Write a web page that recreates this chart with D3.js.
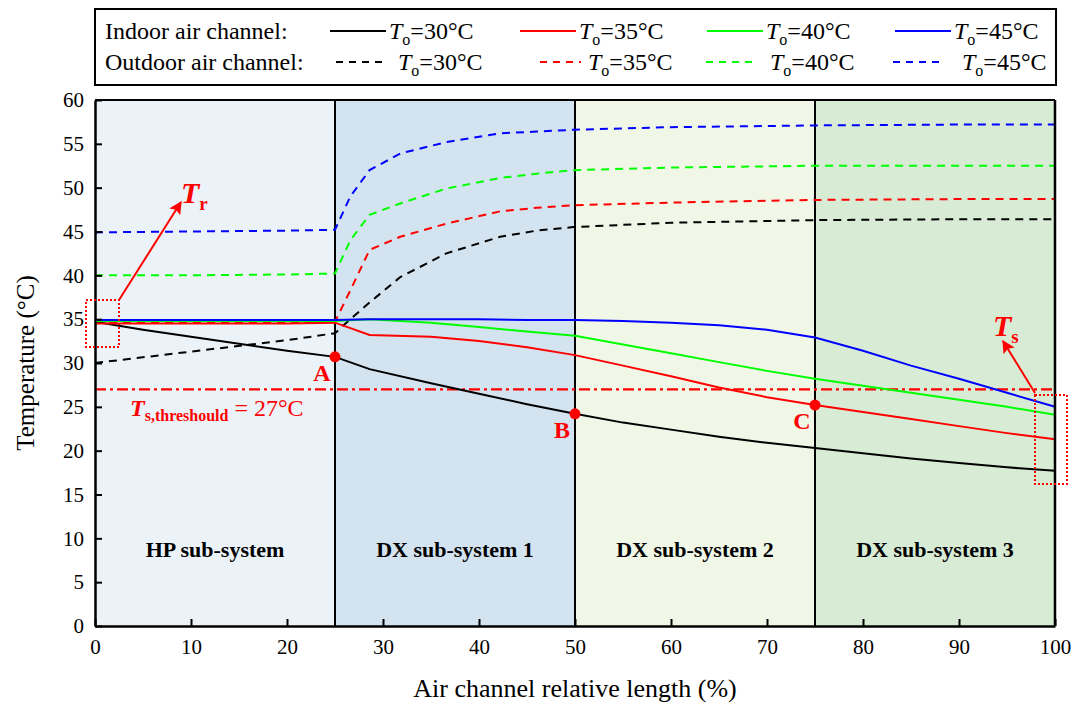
<!DOCTYPE html>
<html><head><meta charset="utf-8">
<script src="https://cdn.jsdelivr.net/npm/d3@7"></script>
<style>body{margin:0;background:#fff}svg{display:block}svg text{font-family:"Liberation Serif","Times New Roman",serif !important}</style>
</head><body><svg id="c" width="1075" height="704"></svg>
<script>
// ---- data ----
const xIndoor = [0,5,10,15,20,25,28.6,35,40,45,50,55,60,65,70,75,80,85,90,95,100];
const inT30 = [34.7,33.8,33.0,32.2,31.4,30.7,29.3,27.7,26.5,25.3,24.2,23.2,22.4,21.6,20.9,20.3,19.7,19.1,18.6,18.1,17.7];
const inT35 = [34.5,34.5,34.5,34.5,34.5,34.6,33.2,33.0,32.5,31.8,30.9,29.7,28.5,27.2,26.1,25.2,24.4,23.6,22.8,22.0,21.3];
const inT40 = [34.8,34.8,34.8,34.8,34.8,34.8,35.0,34.6,34.1,33.6,33.1,32.1,31.1,30.1,29.1,28.2,27.4,26.6,25.8,25.0,24.1];
const inT45 = [34.9,34.9,34.9,34.9,34.9,34.9,35.0,35.0,35.0,34.9,34.9,34.8,34.6,34.3,33.8,32.9,31.4,29.7,28.2,26.6,25.0];
const xOutdoor = [0,10,20,25,26.6,28.6,31.8,36.6,42.2,46,49.8,60,75,90,100];
const outT30 = [30.0,31.3,32.6,33.4,35.0,36.9,39.8,42.5,44.4,45.1,45.5,46.0,46.3,46.4,46.4];
const outT35 = [34.6,34.6,34.6,34.7,38.3,42.9,44.4,45.9,47.3,47.7,48.0,48.3,48.6,48.7,48.7];
const outT40 = [40.0,40.0,40.1,40.2,44.0,46.9,48.2,49.9,51.1,51.6,52.0,52.3,52.5,52.5,52.5];
const outT45 = [44.9,45.0,45.1,45.2,49.0,52.0,53.9,55.2,56.2,56.4,56.6,56.9,57.1,57.2,57.2];
const seriesLabels = ["30","35","40","45"];
const seriesColors = ["#000000","#ff0000","#00ff00","#0000ff"];
const regions = ["HP sub-system","DX sub-system 1","DX sub-system 2","DX sub-system 3"];
const regionBounds = [0,25,50,75,100];
const regionFills = ["#ecf3f8","#d3e3ef","#f0f7e7","#d7ebd5"];
const xTicks = [0,10,20,30,40,50,60,70,80,90,100];
const yTicks = [0,5,10,15,20,25,30,35,40,45,50,55,60];
const pointsX = [25,50,75];
const pointsY = [30.7,24.2,25.2];
const pointsLab = ["A","B","C"];
const threshold = 27;

// ---- layout ----
const svg = d3.select("#c");
const L=95,R=1055,T=100,B=626;
const x = d3.scaleLinear().domain([0,100]).range([L,R]);
const y = d3.scaleLinear().domain([0,60]).range([B,T]);

// backgrounds
regions.forEach((r,i)=>{
  svg.append("rect").attr("x",x(regionBounds[i])).attr("y",y(60))
    .attr("width",x(regionBounds[i+1])-x(regionBounds[i])).attr("height",y(0)-y(60))
    .attr("fill",regionFills[i]);
  svg.append("text").attr("x",x((regionBounds[i]+regionBounds[i+1])/2)).attr("y",y(8.8)+8)
    .attr("text-anchor","middle").attr("font-weight","bold").attr("font-size",22).text(r);
});
[25,50,75].forEach(v=>{
  svg.append("line").attr("x1",x(v)).attr("x2",x(v)).attr("y1",y(0)).attr("y2",y(60))
    .attr("stroke","#000").attr("stroke-width",2);
});

// threshold
svg.append("line").attr("x1",x(0)).attr("x2",x(100)).attr("y1",y(threshold)).attr("y2",y(threshold))
  .attr("stroke","#ff0000").attr("stroke-width",2.2).attr("stroke-dasharray","11,4,3,4");

// lines
const line = (xs)=>d3.line().x((d,i)=>x(xs[i])).y(d=>y(d));
const outs=[outT30,outT35,outT40,outT45], ins=[inT30,inT35,inT40,inT45];
outs.forEach((s,i)=>{
  svg.append("path").attr("d",line(xOutdoor)(s)).attr("fill","none").attr("stroke",seriesColors[i])
   .attr("stroke-width",2).attr("stroke-dasharray","8,6");
});
ins.forEach((s,i)=>{
  svg.append("path").attr("d",line(xIndoor)(s)).attr("fill","none").attr("stroke",seriesColors[i])
   .attr("stroke-width",2);
});

// axes
const gx = svg.append("g").attr("transform",`translate(0,${B})`)
  .call(d3.axisBottom(x).tickValues(xTicks).tickSizeInner(-7).tickSizeOuter(0).tickPadding(13));
const gy = svg.append("g").attr("transform",`translate(${L},0)`)
  .call(d3.axisLeft(y).tickValues(yTicks).tickSizeInner(-7).tickSizeOuter(0).tickPadding(11));
[gx,gy].forEach(g=>{
  g.attr("font-family",null).attr("font-size",null);
  g.select(".domain").attr("stroke","#000").attr("stroke-width",2.5);
  g.selectAll(".tick line").attr("stroke","#000").attr("stroke-width",2);
  g.selectAll(".tick text").attr("font-size",21).attr("fill","#000");
});
svg.append("line").attr("x1",L).attr("x2",R).attr("y1",T).attr("y2",T).attr("stroke","#000").attr("stroke-width",2);
svg.append("line").attr("x1",R).attr("x2",R).attr("y1",T).attr("y2",B).attr("stroke","#000").attr("stroke-width",2.5);

// axis titles
svg.append("text").attr("x",x(50)).attr("y",697).attr("text-anchor","middle").attr("font-size",26).text("Air channel relative length (%)");
svg.append("text").attr("transform",`translate(34,${(T+B)/2}) rotate(-90)`).attr("text-anchor","middle").attr("font-size",25).text("Temperature (°C)");

// points
pointsX.forEach((px,i)=>{
  svg.append("circle").attr("cx",x(px)).attr("cy",y(pointsY[i])).attr("r",5.5).attr("fill","#ff0000");
  svg.append("text").attr("x",x(px)-13).attr("y",y(pointsY[i])+24).attr("text-anchor","middle")
    .attr("font-weight","bold").attr("font-size",24).attr("fill","#ff0000").text(pointsLab[i]);
});

// threshold label
const tl = svg.append("text").attr("x",130).attr("y",416).attr("fill","#ff0000").attr("font-size",24);
tl.append("tspan").attr("font-weight","bold").attr("font-style","italic").text("T");
tl.append("tspan").attr("font-weight","bold").attr("font-size",16).attr("dy",5).text("s,threshould");
tl.append("tspan").attr("dy",-5).text(" = 27°C");

// annotations
const defs = svg.append("defs");
defs.append("marker").attr("id","arr").attr("viewBox","0 0 10 10").attr("refX",9).attr("refY",5)
  .attr("markerWidth",18).attr("markerHeight",13).attr("orient","auto").attr("markerUnits","userSpaceOnUse")
  .append("path").attr("d","M0,0 L10,5 L0,10 L2,5 z").attr("fill","#ff0000");
svg.append("rect").attr("x",86).attr("y",300).attr("width",33).attr("height",47)
  .attr("fill","none").attr("stroke","#ff0000").attr("stroke-width",2).attr("stroke-dasharray","2,2");
svg.append("line").attr("x1",119).attr("y1",300).attr("x2",181).attr("y2",202)
  .attr("stroke","#ff0000").attr("stroke-width",2).attr("marker-end","url(#arr)");
const tr = svg.append("text").attr("x",181).attr("y",203).attr("fill","#ff0000").attr("font-weight","bold").attr("font-style","italic").attr("font-size",30);
tr.append("tspan").text("T");
tr.append("tspan").attr("font-size",19).attr("font-style","normal").attr("dy",7).text("r");

svg.append("rect").attr("x",1035).attr("y",395).attr("width",32).attr("height",89)
  .attr("fill","none").attr("stroke","#ff0000").attr("stroke-width",2).attr("stroke-dasharray","2,2");
svg.append("line").attr("x1",1035).attr("y1",393).attr("x2",1003).attr("y2",341)
  .attr("stroke","#ff0000").attr("stroke-width",2).attr("marker-end","url(#arr)");
const ts = svg.append("text").attr("x",993).attr("y",336).attr("fill","#ff0000").attr("font-weight","bold").attr("font-style","italic").attr("font-size",30);
ts.append("tspan").text("T");
ts.append("tspan").attr("font-size",19).attr("font-style","normal").attr("dy",7).text("s");

// legend
svg.append("rect").attr("x",95).attr("y",9).attr("width",961).attr("height",76)
  .attr("fill","#fff").attr("stroke","#000").attr("stroke-width",2);
const rows = [{label:"Indoor air channel:",y:31,dash:null,lx:[330,520,707,895],len:56,gap:3},
              {label:"Outdoor air channel:",y:62,dash:"7,6",lx:[336,540,706,893],len:[52,41,52,52],gap:[10,7,12,17]}];
rows.forEach(r=>{
  svg.append("text").attr("x",105).attr("y",r.y+8).attr("font-size",24).text(r.label);
  seriesLabels.forEach((lab,i)=>{
    const x0=r.lx[i], len = Array.isArray(r.len)? r.len[i]:r.len, g = Array.isArray(r.gap)? r.gap[i]:r.gap;
    svg.append("line").attr("x1",x0).attr("x2",x0+len).attr("y1",r.y).attr("y2",r.y)
      .attr("stroke",seriesColors[i]).attr("stroke-width",2).attr("stroke-dasharray",r.dash);
    const t = svg.append("text").attr("x",x0+len+g).attr("y",r.y+8).attr("font-size",24);
    t.append("tspan").attr("font-style","italic").text("T");
    t.append("tspan").attr("font-size",16).attr("dy",6).text("o");
    t.append("tspan").attr("dy",-6).text("="+lab+"°C");
  });
});
</script></body></html>
